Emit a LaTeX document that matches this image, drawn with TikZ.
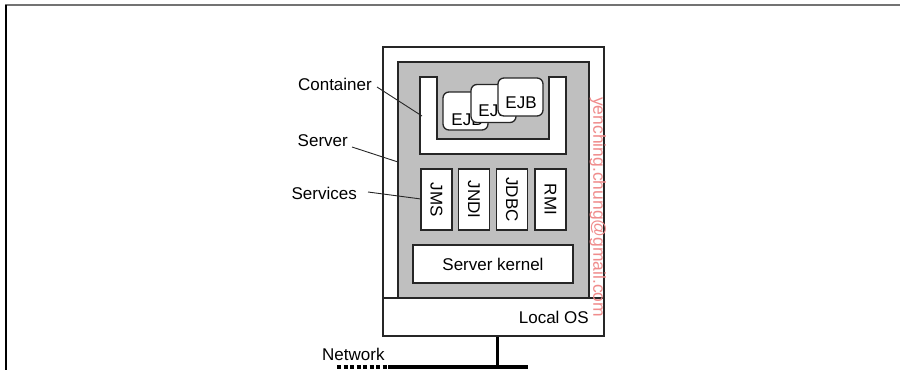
\documentclass[tikz,border=0pt]{standalone}
\usepackage{fontspec}
\setmainfont{Liberation Sans}
\begin{document}
\begin{tikzpicture}[x=1pt,y=-1pt,
  lbl/.style={font=\fontsize{17}{20}\selectfont, inner sep=0pt},
  whitebox/.style={draw=black!85, fill=white, line width=1.3pt, inner sep=0pt},
  ejbbox/.style={whitebox, rounded corners=6pt, minimum width=45pt, minimum height=38pt},
  svcbox/.style={whitebox, minimum width=31pt, minimum height=61pt},
  leader/.style={draw=black!85, line width=0.9pt},
]
\useasboundingbox (0,0) rectangle (900,370);
% frame
\draw[black!55, line width=2pt] (5,5) -- (900,5);
\draw[black, line width=1.5pt] (6,4.5) -- (6,370);
% outer server box
\node[draw=black!85, line width=2pt, fill=white, minimum width=221pt, minimum height=289pt, inner sep=0pt] (server) at (493.5,191.5) {};
\coordinate (osl) at (383,298);
\coordinate (osr) at (604,298);
\draw[black!85, line width=1.2pt] (osl) -- (osr);
% gray area
\node[draw=black!85, line width=1.3pt, fill=black!25, minimum width=191pt, minimum height=236pt, inner sep=0pt] (gray) at (493.5,180) {};
% container U
\draw[draw=black!85, fill=white, line width=1.3pt]
  (420,77) coordinate (cu1) -- (437,77) -- (437,139) -- (549,139) -- (549,77) -- (566,77) -- (566,154) -- (420,154) -- cycle;
% EJBs
\node[ejbbox] (e1) at (465.5,111) {};
\node[lbl] (t1) at (467,120) {EJB};
\node[ejbbox] (e2) at (493.5,103.5) {};
\node[lbl] (t2) at (494,111) {EJB};
\node[ejbbox] (e3) at (520.5,97) {};
\node[lbl] (t3) at (521,103) {EJB};
% services
\node[svcbox] (jms) at (436.5,199.5) {};
\node[lbl, rotate=-90] at (jms) {JMS};
\node[svcbox] (jndi) at (474,199.5) {};
\node[lbl, rotate=-90] at (jndi) {JNDI};
\node[svcbox] (jdbc) at (512,199.5) {};
\node[lbl, rotate=-90] at (jdbc) {JDBC};
\node[svcbox] (rmi) at (550.5,199.5) {};
\node[lbl, rotate=-90] at (rmi) {RMI};
% kernel
\node[whitebox, minimum width=160pt, minimum height=38pt, lbl] (kernel) at (493,264) {Server kernel};
% local OS
\node[lbl, anchor=east] (los) at (589,317) {Local OS};
% labels
\node[lbl, anchor=east] (lc) at (372,84) {Container};
\node[lbl, anchor=east] (ls) at (348,141) {Server};
\node[lbl, anchor=east] (lsv) at (357,193) {Services};
\coordinate (pc) at (422,116);
\coordinate (ps) at (398,162);
\coordinate (pv) at (421,199);
\draw[leader] (377,87) -- (pc);
\draw[leader] (352,147) -- (ps);
\draw[leader] (368,192) -- (pv);
% network
\coordinate (nb) at (497,367);
\draw[black, line width=3pt] (server.south -| nb) -- (nb);
\coordinate (na) at (388,367);
\coordinate (nc) at (528,367);
\coordinate (nd) at (337,367);
\draw[black, line width=3.5pt] (na) -- (nc);
\draw[black, line width=3.5pt, dash pattern=on 4pt off 2.5pt] (nd) -- (na);
\node[lbl, anchor=south west] (lnet) at (322,361) {Network};
% watermark
\node[font=\fontsize{17.5}{20}\selectfont, text={rgb,255:red,240;green,140;blue,140}, rotate=-90, inner sep=0pt, anchor=west] (wm) at (598,97) {yenching.chung@gmail.com};
\end{tikzpicture}
\end{document}
